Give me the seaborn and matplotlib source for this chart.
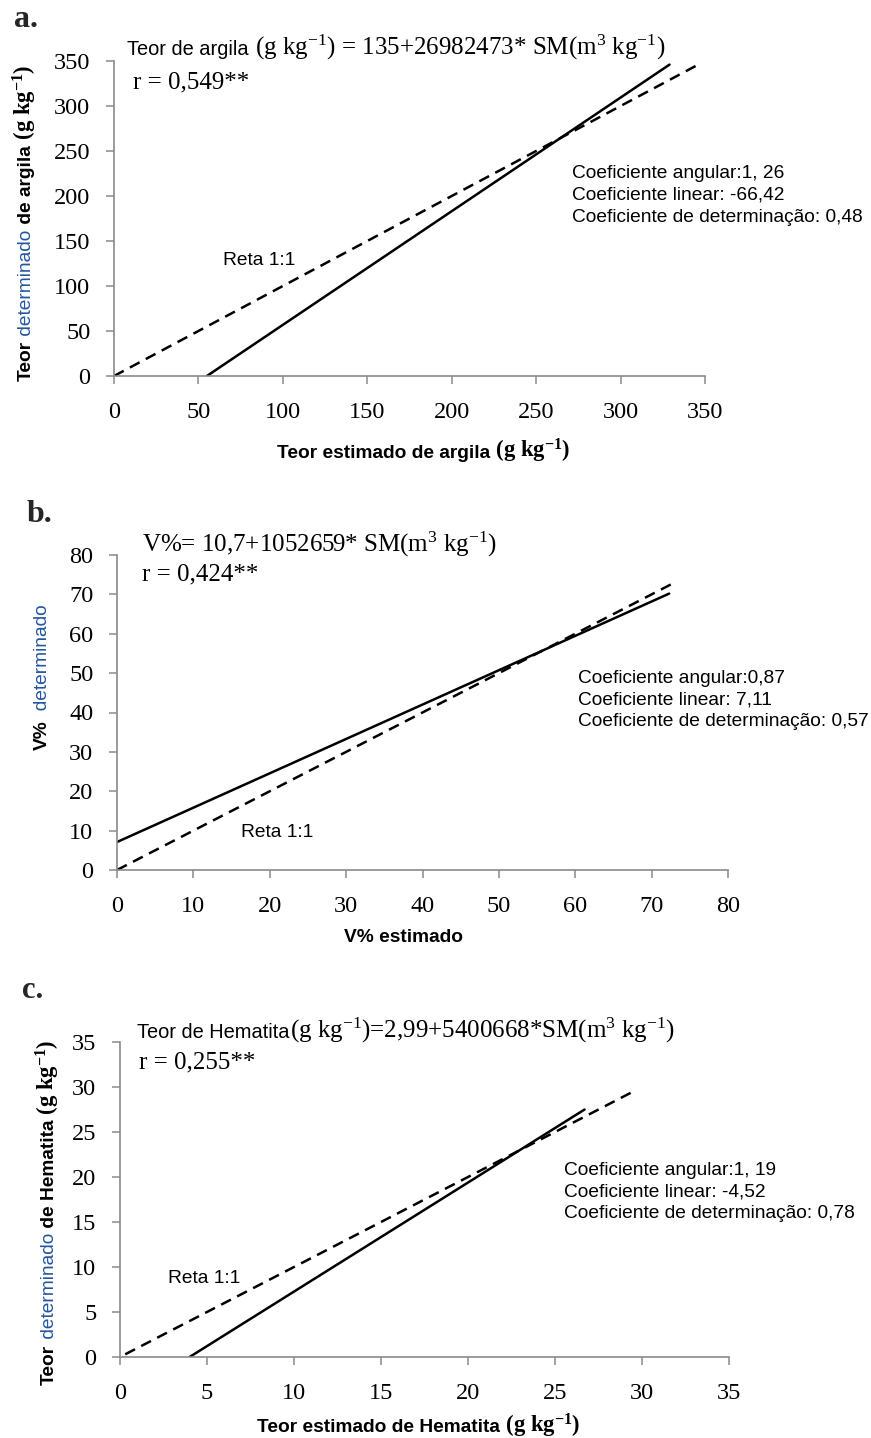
import matplotlib
matplotlib.use("Agg")
import matplotlib.pyplot as plt
from matplotlib import font_manager
import seaborn as sns
import pandas as pd

# ---------------- data ----------------
# panel a (argila)
a_fit_x = [55, 329]
a_fit_y = [0, 346]
a_ref_x = [0, 345]
a_ref_y = [0, 345]
a_ticks = [0, 50, 100, 150, 200, 250, 300, 350]

# panel b (V%)
b_fit_x = [0, 72.3]
b_fit_y = [7.1, 70.2]
b_ref_x = [0, 73]
b_ref_y = [0, 73]
b_ticks = [0, 10, 20, 30, 40, 50, 60, 70, 80]

# panel c (Hematita)
c_fit_x = [4.0, 26.7]
c_fit_y = [0, 27.5]
c_ref_x = [0.3, 29.7]
c_ref_y = [0.3, 29.7]
c_ticks = [0, 5, 10, 15, 20, 25, 30, 35]

a_coefs = ["Coeficiente angular:1, 26", "Coeficiente linear: -66,42",
           "Coeficiente de determinação: 0,48"]
b_coefs = ["Coeficiente angular:0,87", "Coeficiente linear: 7,11",
           "Coeficiente de determinação: 0,57"]
c_coefs = ["Coeficiente angular:1, 19", "Coeficiente linear: -4,52",
           "Coeficiente de determinação: 0,78"]

# ---------------- style ----------------
sns.set_theme(style="white")
names = {f.name for f in font_manager.fontManager.ttflist}
NARROW = "Liberation Sans Narrow" in names
SANS = "Liberation Sans Narrow" if NARROW else "Liberation Sans"
SERIF = "Liberation Serif"
plt.rcParams.update({
    "font.family": [SERIF, "DejaVu Serif"],
    "mathtext.fontset": "custom",
    "mathtext.rm": SERIF,
    "mathtext.it": SERIF + ":italic",
    "mathtext.bf": SERIF + ":bold",
})
SS = 16.5 if NARROW else 13.8  # sans text size
BLUE = "#2455a0"
GRAY = "#8a8a8a"

W, H = 871, 1438
fig = plt.figure(figsize=(W / 100, H / 100), dpi=100)
fig.patch.set_facecolor("white")
renderer = fig.canvas.get_renderer()


def add_axes(l, r, t, b):
    return fig.add_axes([l / W, 1 - b / H, (r - l) / W, (b - t) / H])


def rich(x, y, pieces, rotation=0, align="left"):
    """pieces: list of (text, props). x,y in pixels from top-left; y is baseline."""
    arts, sizes = [], []
    for s, kw in pieces:
        t = fig.text(0, 0, s, rotation=rotation, rotation_mode="anchor",
                     ha="left", va="baseline", **kw)
        bb = t.get_window_extent(renderer)
        sizes.append(bb.height if rotation == 90 else bb.width)
        arts.append(t)
    total = sum(sizes)
    pos = -total / 2 if align == "center" else 0
    for t, sz in zip(arts, sizes):
        if rotation == 90:
            t.set_position((x / W, 1 - (y - pos) / H))
        else:
            t.set_position(((x + pos) / W, 1 - y / H))
        pos += sz


def panel(ax, fit_x, fit_y, ref_x, ref_y, ticks):
    sns.lineplot(x=fit_x, y=fit_y, ax=ax, color="black", lw=1.8,
                 estimator=None, sort=False)
    sns.lineplot(x=ref_x, y=ref_y, ax=ax, color="black", lw=1.8,
                 linestyle=(0, (4.4, 2.8)), estimator=None, sort=False)
    ax.set_xlim(ticks[0], ticks[-1])
    ax.set_ylim(ticks[0], ticks[-1])
    ax.set_xticks(ticks)
    ax.set_yticks(ticks)
    for sp in ["top", "right"]:
        ax.spines[sp].set_visible(False)
    for sp in ["left", "bottom"]:
        ax.spines[sp].set_color(GRAY)
        ax.spines[sp].set_linewidth(1.2)
    ax.tick_params(axis="both", which="both", bottom=True, left=True,
                   direction="out", length=6, width=1.1, color=GRAY,
                   labelsize=17.5, labelcolor="black")
    ax.tick_params(axis="x", pad=13)
    ax.tick_params(axis="y", pad=11)
    for lab in ax.get_xticklabels() + ax.get_yticklabels():
        lab.set_fontfamily(SERIF)
    ax.set_xlabel("")
    ax.set_ylabel("")
    ax.patch.set_alpha(0)


sans = dict(family=SANS, fontsize=SS, color="black")
sans_eq = dict(family=SANS, fontsize=SS + 0.6, color="black")
sans_b = dict(family=SANS, fontsize=SS, color="black", fontweight="bold")
sans_blue = dict(family=SANS, fontsize=SS, color=BLUE)
serif_eq = dict(family=SERIF, fontsize=18.0, color="black")
serif_b = dict(family=SERIF, fontsize=SS + 2.5, color="black", fontweight="bold")
unit_b = r" (g kg$^{\mathbf{-1}}$)"

# ---------------- panel a ----------------
ax_a = add_axes(114, 705, 61, 376)
panel(ax_a, a_fit_x, a_fit_y, a_ref_x, a_ref_y, a_ticks)
rich(14, 27, [("a.", dict(family=SERIF, fontsize=23, fontweight="bold"))])
rich(127, 55, [("Teor de argila", sans_eq),
               (r" (g kg$^{\mathrm{-1}}$) = 135+26982473* SM(m$^{\mathrm{3}}$ kg$^{\mathrm{-1}}$)", serif_eq)])
rich(133, 88, [("r = 0,549**", serif_eq)])
for i, s in enumerate(a_coefs):
    rich(572, 178 + 22 * i, [(s, sans)])
rich(223, 265, [("Reta 1:1", sans)])
rich(424, 458, [("Teor estimado de argila", sans_b), (unit_b, serif_b)], align="center")
rich(31, 223, [("Teor", sans_b), (" determinado", sans_blue), (" de argila", sans_b),
               (unit_b, serif_b)], rotation=90, align="center")

# ---------------- panel b ----------------
ax_b = add_axes(117, 728, 555, 870)
panel(ax_b, b_fit_x, b_fit_y, b_ref_x, b_ref_y, b_ticks)
rich(27, 522, [("b.", dict(family=SERIF, fontsize=23, fontweight="bold"))])
rich(142, 552, [(r"V%= 10,7+1052659* SM(m$^{\mathrm{3}}$ kg$^{\mathrm{-1}}$)", serif_eq)])
rich(142, 580, [("r = 0,424**", serif_eq)])
for i, s in enumerate(b_coefs):
    rich(578, 683 + 21.5 * i, [(s, sans)])
rich(241, 837, [("Reta 1:1", sans)])
rich(404, 942, [("V% estimado", sans_b)], align="center")
rich(47, 677, [("V%", sans_b), ("  determinado", sans_blue)], rotation=90, align="center")

# ---------------- panel c ----------------
ax_c = add_axes(120, 729, 1042, 1357)
panel(ax_c, c_fit_x, c_fit_y, c_ref_x, c_ref_y, c_ticks)
rich(22, 998, [("c.", dict(family=SERIF, fontsize=22, fontweight="bold"))])
rich(137, 1038, [("Teor de Hematita", sans_eq),
                 (r"(g kg$^{\mathrm{-1}}$)=2,99+5400668*SM(m$^{\mathrm{3}}$ kg$^{\mathrm{-1}}$)", serif_eq)])
rich(139, 1068, [("r = 0,255**", serif_eq)])
for i, s in enumerate(c_coefs):
    rich(564, 1175 + 21.5 * i, [(s, sans)])
rich(168, 1283, [("Reta 1:1", sans)])
rich(419, 1432, [("Teor estimado de Hematita", sans_b), (unit_b, serif_b)], align="center")
rich(54, 1212, [("Teor", sans_b), (" determinado", sans_blue), (" de Hematita", sans_b),
                (unit_b, serif_b)], rotation=90, align="center")

fig.savefig("out.png", dpi=100, facecolor="white")
